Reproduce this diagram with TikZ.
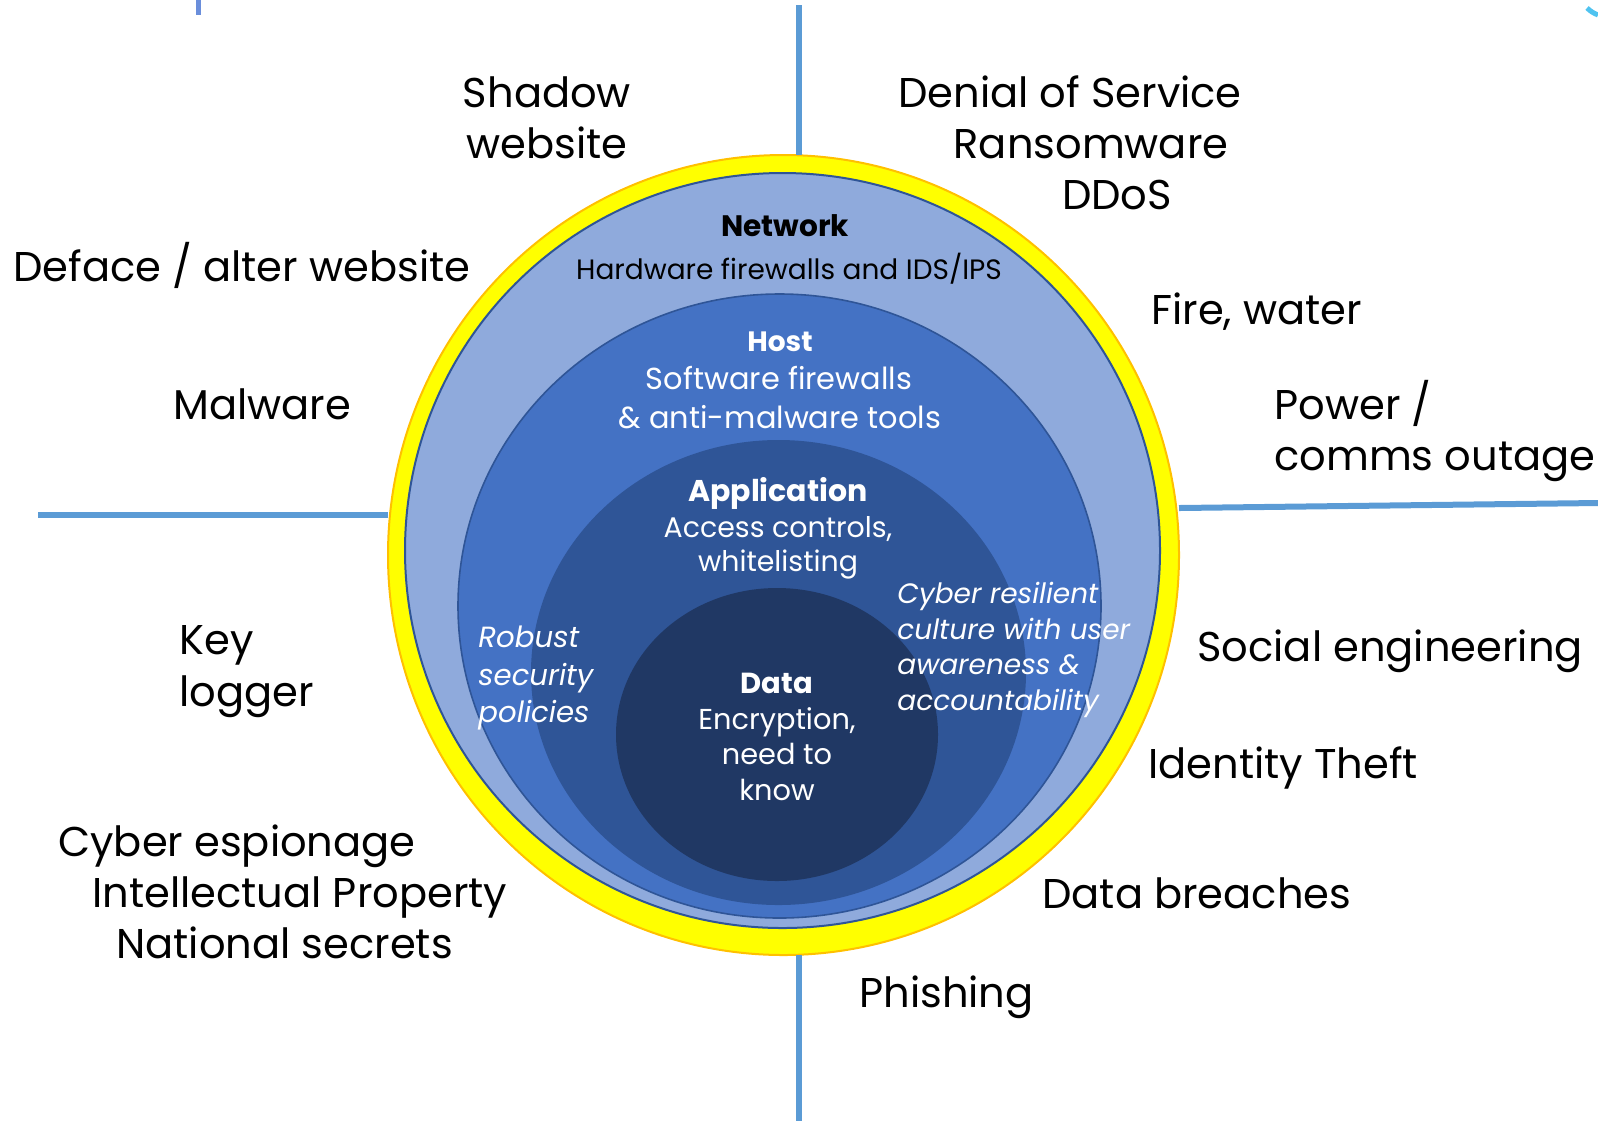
\documentclass[tikz,border=0pt]{standalone}
\usepackage{fontspec}
\setmainfont{Poppins}
\usetikzlibrary{shapes.geometric}
\definecolor{ringyellow}{HTML}{FFFF00}
\definecolor{ringorange}{HTML}{FFC000}
\definecolor{netblue}{HTML}{8FAADC}
\definecolor{hostblue}{HTML}{4472C4}
\definecolor{appblue}{HTML}{2F5597}
\definecolor{datablue}{HTML}{203864}
\definecolor{edgeblue}{HTML}{2F5597}
\definecolor{linesblue}{HTML}{5B9BD5}
\definecolor{fragblue}{HTML}{6A8EDB}
\definecolor{fragcyan}{HTML}{4FC3F0}
\begin{document}
\begin{tikzpicture}[x=0.5pt,y=-0.5pt,
  layer/.style={ellipse,inner sep=0pt,outer sep=0pt},
  divider/.style={draw=linesblue,line width=3pt},
  big/.style={font=\fontsize{20.8}{25.5}\selectfont,inner sep=0pt,text=black},
  inner/.style={font=\fontsize{#1}{18}\selectfont,inner sep=0pt,text=white},
  inner/.default=14,
  innerb/.style={font=\fontsize{#1}{18}\selectfont\bfseries,inner sep=0pt,text=white},
  innerb/.default=14,
  note/.style={font=\fontsize{#1}{18}\selectfont\itshape,inner sep=0pt,text=white,align=left},
  note/.default=14]
\useasboundingbox (0,0) rectangle (1598,1121);

% divider lines
\coordinate (ltop) at (799,5);
\coordinate (lbot) at (799,1121);
\coordinate (lleft) at (38,515);
\coordinate (lright) at (1598,503);

% layers
\node[layer,fill=ringyellow,draw=ringorange,line width=1pt,minimum width=395.5pt,minimum height=400pt] (ring) at (783.5,555) {};
\node[layer,fill=netblue,draw=edgeblue,line width=1pt,minimum width=377.5pt,minimum height=377.5pt] (net) at (782.5,550.5) {};
\node[layer,fill=hostblue,draw=edgeblue,line width=0.8pt,minimum width=321.5pt,minimum height=312pt] (host) at (779.5,606) {};
\node[layer,fill=appblue,minimum width=247.5pt,minimum height=232.5pt] (app) at (778.5,672.5) {};
\node[layer,fill=datablue,minimum width=161pt,minimum height=146.5pt] (data) at (777,734.5) {};

\draw[divider] (ltop) -- (ring.north -| ltop);
\draw[divider] (ring.south -| lbot) -- (lbot);
\draw[divider] (lleft) -- (ring.west |- lleft);
\draw[divider] (ring.east |- 0,508) -- (lright);

% fragments at the top edge
\coordinate (fragA) at (198,0);
\coordinate (fragB) at (198,15);
\draw[draw=fragblue,line width=2.5pt] (fragA) -- (fragB);
\coordinate (fragC) at (1587,8);
\coordinate (fragD) at (1598,15);
\draw[draw=fragcyan,line width=2.5pt] (fragC) to[bend right=10] (fragD);

% layer texts
\node[innerb=14.8,text=black,anchor=base] (tnet) at (785,236) {Network};
\node[inner=14,text=black,anchor=base] (tnet2) at (789,279) {Hardware firewalls and IDS/IPS};
\node[innerb=14,anchor=base] (thost) at (780,351) {Host};
\node[inner=15.2,anchor=base] (thost2) at (779,389) {Software firewalls};
\node[inner=15.2,anchor=base] (thost3) at (780,428) {\& anti-malware tools};
\node[innerb=15,anchor=base] (tapp) at (778,501) {Application};
\node[inner=14.2,anchor=base] (tapp2) at (778,537) {Access controls,};
\node[inner=14.2,anchor=base] (tapp3) at (778,571) {whitelisting};
\node[innerb=14.5,anchor=base] (tdata) at (777,693) {Data};
\node[inner=14.4,anchor=base] (tdata2) at (777,729) {Encryption,};
\node[inner=14.4,anchor=base] (tdata3) at (777,764) {need to};
\node[inner=14.4,anchor=base] (tdata4) at (777,800) {know};
\node[note=14.6,anchor=base west] (trob1) at (478,647) {Robust};
\node[note=14.6,anchor=base west] (trob2) at (478,685) {security};
\node[note=14.6,anchor=base west] (trob3) at (478,722) {policies};
\node[note=14,anchor=base west] (tcyb1) at (897,603) {Cyber resilient};
\node[note=14,anchor=base west] (tcyb2) at (897,639) {culture with user};
\node[note=14,anchor=base west] (tcyb3) at (897,674) {awareness \&};
\node[note=14,anchor=base west] (tcyb4) at (897,710) {accountability};

% threats
\node[big,anchor=base] (shadow1) at (547,107) {Shadow};
\node[big,anchor=base] (shadow2) at (547,158) {website};
\node[big,anchor=base] (dos) at (1070,107) {Denial of Service};
\node[big,anchor=base] (ransom) at (1091,158) {Ransomware};
\node[big,anchor=base] (ddos) at (1117,209) {DDoS};
\node[big,anchor=base west] (deface) at (13,281) {Deface / alter website};
\node[big,anchor=base west] (fire) at (1151,324) {Fire, water};
\node[big,anchor=base west] (malware) at (173,419) {Malware};
\node[big,anchor=base west] (power1) at (1274,419) {Power /};
\node[big,anchor=base west] (power2) at (1274,470) {comms outage};
\node[big,anchor=base west] (key1) at (179,654) {Key};
\node[big,anchor=base west] (key2) at (179,706) {logger};
\node[big,anchor=base west] (social) at (1197,661) {Social engineering};
\node[big,anchor=base west] (identity) at (1148,778) {Identity Theft};
\node[big,anchor=base west] (esp1) at (58,856) {Cyber espionage};
\node[big,anchor=base west] (esp2) at (92,907) {Intellectual Property};
\node[big,anchor=base west] (esp3) at (116,958) {National secrets};
\node[big,anchor=base west] (breach) at (1042,908) {Data breaches};
\node[big,anchor=base west] (phish) at (859,1007) {Phishing};
\end{tikzpicture}
\end{document}
